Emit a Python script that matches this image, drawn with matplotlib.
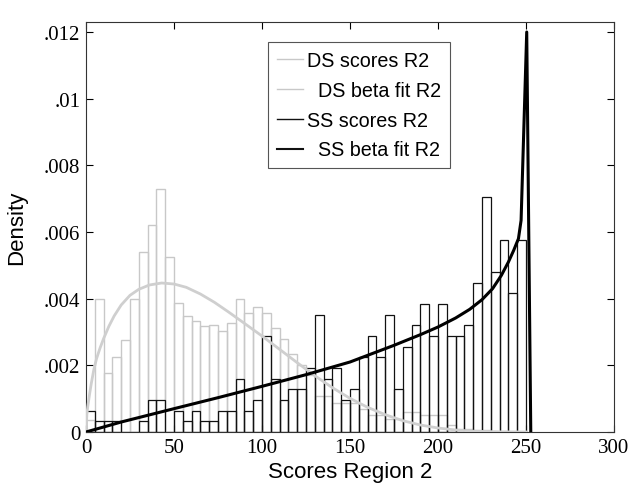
import matplotlib
matplotlib.use('Agg')
import matplotlib.pyplot as plt
from matplotlib.lines import Line2D
from matplotlib.ticker import FuncFormatter

# ---------- data ----------
bin_edges = list(range(0, 255, 5))  # 0..250, 5-wide bins

ds_density = [0.00035, 0.0040, 0.00177, 0.00224, 0.00277, 0.0040, 0.0054, 0.0062, 0.0073, 0.00525,
              0.00387, 0.00347, 0.00332, 0.00318, 0.0032, 0.00302, 0.00328, 0.00398, 0.00358, 0.00375,
              0.00358, 0.00313, 0.00279, 0.00234, 0.0020, 0.0017, 0.00108, 0.00108, 0.00086, 0.00086,
              0.00086, 0.0007, 0.0005, 0.0005, 0.0004, 0.0004, 0.0006, 0.0006, 0.0005, 0.0005,
              0.0005, 0.0002, 0.0001, 0.0001, 0.00005, 0.00005, 0.0, 0.0, 0.0, 0.0]

ss_density = [0.00064, 0.00032, 0.00032, 0.00032, 0.0, 0.0, 0.00032, 0.00096, 0.00096, 0.0,
              0.00064, 0.00032, 0.00064, 0.00032, 0.00032, 0.00064, 0.00064, 0.0016, 0.00064, 0.00096,
              0.00288, 0.0016, 0.00096, 0.00128, 0.00128, 0.00192, 0.00352, 0.0016, 0.00192, 0.00096,
              0.00128, 0.00224, 0.00288, 0.00224, 0.00352, 0.00128, 0.00256, 0.0032, 0.00384, 0.00288,
              0.00384, 0.00288, 0.00288, 0.0032, 0.00448, 0.00704, 0.0048, 0.00576, 0.00416, 0.00576]

ds_fit_x = [0, 0.5, 1, 2, 3, 4.5, 6, 8, 10, 13, 16, 20, 25, 30, 36, 43, 50, 57, 65, 73, 81, 90,
            100, 110, 120, 130, 140, 150, 160, 170, 180, 190, 200, 210, 220, 235, 250]
ds_fit_y = [0, 0.00052, 0.00076, 0.00112, 0.00145, 0.00188, 0.0022, 0.00252, 0.0028, 0.00317,
            0.00348, 0.00381, 0.0041, 0.00428, 0.00441, 0.00447, 0.00444, 0.00434, 0.00414,
            0.00389, 0.0036, 0.00326, 0.00288, 0.00248, 0.00208, 0.00169, 0.00133, 0.00101,
            0.00074, 0.00052, 0.00034, 0.00021, 0.00012, 0.00006, 0.000025, 0.000005, 0]

ss_fit_x = [0, 20, 50, 75, 100, 125, 150, 163, 175, 182, 190, 200, 210, 218, 225, 231, 236,
            240, 243, 245.7, 247.2, 250.4, 252.7]
ss_fit_y = [0, 0.0003, 0.0007, 0.00103, 0.00137, 0.00172, 0.0021, 0.00236, 0.0026, 0.00275,
            0.00292, 0.00315, 0.00342, 0.00368, 0.00397, 0.0043, 0.0047, 0.0051, 0.00545,
            0.0058, 0.00635, 0.012, 0]

y_ticks = [0, 0.002, 0.004, 0.006, 0.008, 0.010, 0.012]
x_ticks = [0, 50, 100, 150, 200, 250, 300]

ds_color = '#c8c8c8'
ss_color = '#111111'

# ---------- plot ----------
fig = plt.figure(figsize=(6.34, 4.85), dpi=100)
ax = fig.add_axes([0.1356, 0.1072, 0.8329, 0.8454])

ax.bar(bin_edges[:-1], ds_density, width=5, align='edge', fill=False,
       edgecolor=ds_color, linewidth=1.0, zorder=2)
ax.bar(bin_edges[:-1], ss_density, width=5, align='edge', fill=False,
       edgecolor=ss_color, linewidth=0.9, zorder=3)
ax.plot(ds_fit_x, ds_fit_y, color='#cfcfcf', linewidth=2.0, zorder=4)
ax.plot(ss_fit_x, ss_fit_y, color='black', linewidth=2.2, zorder=5)

ax.set_xlim(0, 300)
ax.set_ylim(0, 0.0123)
ax.set_xticks(x_ticks)
ax.set_yticks(y_ticks)


def fmt_y(v, pos):
    if v == 0:
        return '0'
    return ('%g' % v).lstrip('0')


ax.yaxis.set_major_formatter(FuncFormatter(fmt_y))
ax.tick_params(direction='in', top=True, right=True, length=5, width=0.8,
               labelsize=15, pad=4)
for lab in ax.get_xticklabels() + ax.get_yticklabels():
    lab.set_family('Liberation Serif')
for sp in ax.spines.values():
    sp.set_linewidth(0.8)
    sp.set_color('#333333')

ax.set_xlabel('Scores Region 2', fontsize=16, family='Liberation Sans', labelpad=3)
ax.set_ylabel('Density', fontsize=16, family='Liberation Sans', labelpad=12)

handles = [Line2D([], [], color=ds_color, linewidth=1.0),
           Line2D([], [], color=ds_color, linewidth=1.0),
           Line2D([], [], color=ss_color, linewidth=1.0),
           Line2D([], [], color=ss_color, linewidth=1.5)]
labels = ['DS scores R2', '  DS beta fit R2', 'SS scores R2', '  SS beta fit R2']
leg = ax.legend(handles, labels, loc='upper left', bbox_to_anchor=(0.345, 0.951),
                borderaxespad=0, fancybox=False, framealpha=1, edgecolor='#555555',
                prop={'family': 'Liberation Sans', 'size': 14.2},
                handlelength=1.3, handletextpad=0.2, labelspacing=0.55,
                borderpad=0.45)
leg.get_frame().set_linewidth(0.8)

fig.savefig('out.png', dpi=100)
